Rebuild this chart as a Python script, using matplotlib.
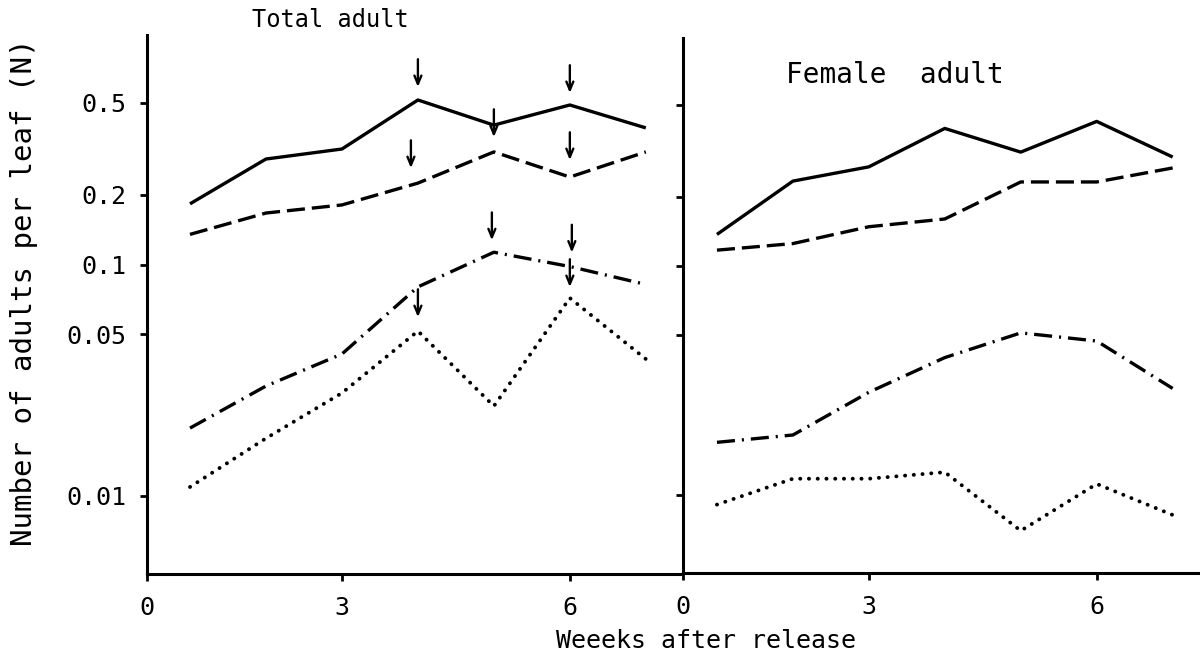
"""Adult counts per leaf after release, total vs female, log scale."""

import matplotlib

matplotlib.use("Agg")
import matplotlib.pyplot as plt
from matplotlib.transforms import offset_copy

plt.rcParams["font.family"] = ["DejaVu Sans Mono", "DejaVu Sans"]
plt.rcParams["lines.scale_dashes"] = False

weeks = [1, 2, 3, 4, 5, 6, 7]

# Total adult (left panel)
total_solid = [0.183, 0.286, 0.316, 0.515, 0.401, 0.49, 0.39]
total_dashed = [0.135, 0.167, 0.181, 0.225, 0.307, 0.239, 0.307]
total_dashdot = [0.0196, 0.0298, 0.041, 0.080, 0.113, 0.098, 0.082]
total_dotted = [0.0109, 0.0177, 0.0278, 0.0515, 0.0244, 0.0716, 0.039]

# Female adult (right panel)
female_solid = [0.137, 0.234, 0.270, 0.397, 0.313, 0.426, 0.298]
female_dashed = [0.117, 0.125, 0.148, 0.160, 0.232, 0.232, 0.267]
female_dashdot = [0.0170, 0.0183, 0.0281, 0.0398, 0.051, 0.047, 0.0292]
female_dotted = [0.0091, 0.0118, 0.0118, 0.0126, 0.0070, 0.0112, 0.0082]

y_ticks = [0.01, 0.05, 0.1, 0.2, 0.5]
y_tick_labels = ["0.01", "0.05", "0.1", "0.2", "0.5"]

# arrows on the left panel: (series, week, gap above point in px, x shift in px)
arrows = [
    ("solid", 4, 13, 0),
    ("solid", 5, -12, 0),
    ("solid", 6, 12, 0),
    ("dashed", 4, 15, -7),
    ("dashed", 6, 17, 0),
    ("dashdot", 5, 12, -2),
    ("dashdot", 6, 14, 2),
    ("dotted", 4, 14, 0),
    ("dotted", 6, 11, 0),
]

styles = {
    "solid": dict(linestyle="-", linewidth=2.4),
    "dashed": dict(linestyle=(0, (13, 5)), linewidth=2.4),
    "dashdot": dict(linestyle=(0, (13, 5, 1.5, 5)), linewidth=2.4),
    "dotted": dict(linestyle=(0, (0.1, 6.2)), linewidth=2.8, dash_capstyle="round"),
}

W, H = 1200, 661
fig = plt.figure(figsize=(W / 100, H / 100), dpi=100)


def px_box(x0, x1, y_top, y_bottom):
    return [x0 / W, 1 - y_bottom / H, (x1 - x0) / W, (y_bottom - y_top) / H]


ax_l = fig.add_axes(px_box(147, 680, 35, 574))
ax_r = fig.add_axes(px_box(683, 1200, 38, 573))

left_series = {
    "solid": total_solid,
    "dashed": total_dashed,
    "dashdot": total_dashdot,
    "dotted": total_dotted,
}
right_series = {
    "solid": female_solid,
    "dashed": female_dashed,
    "dashdot": female_dashdot,
    "dotted": female_dotted,
}

for ax, series, xmin, xmax in (
    (ax_l, left_series, 0.434, 7.45),
    (ax_r, right_series, 0.553, 7.36),
):
    for name, values in series.items():
        ax.plot(weeks, values, color="black", solid_capstyle="butt", **styles[name])
    ax.set_yscale("log")
    ax.set_ylim(0.00458, 0.984)
    ax.set_xlim(xmin, xmax)
    ax.set_yticks(y_ticks)
    ax.yaxis.set_minor_locator(matplotlib.ticker.NullLocator())
    ax.set_xticks([xmin, 3, 6])
    ax.set_xticklabels(["0", "3", "6"])
    ax.spines[["top", "right"]].set_visible(False)
    for side in ("left", "bottom"):
        ax.spines[side].set_linewidth(2.2)
    ax.tick_params(axis="both", direction="out", length=5, width=2.0,
                   labelsize=18, pad=11)

ax_l.set_yticklabels(y_tick_labels)
ax_r.set_yticklabels([])
ax_l.tick_params(axis="y", pad=10)

for name, week, gap_px, dx_px in arrows:
    value = left_series[name][weeks.index(week)]
    tip = offset_copy(ax_l.transData, fig, x=dx_px * 0.72, y=gap_px * 0.72,
                      units="points")
    ax_l.annotate(
        "",
        xy=(week, value),
        xycoords=tip,
        xytext=(0, 20),
        textcoords="offset points",
        arrowprops=dict(arrowstyle="->,head_length=0.6,head_width=0.25",
                        color="black", linewidth=1.7, shrinkA=0, shrinkB=0),
    )

fig.text(330 / W, 1 - 20 / H, "Total adult", ha="center", va="center", fontsize=17)
fig.text(895 / W, 1 - 75 / H, "Female  adult", ha="center", va="center", fontsize=20)
fig.text(706 / W, 1 - 641 / H, "Weeeks after release", ha="center", va="center",
         fontsize=18)
fig.text(24 / W, 1 - 292 / H, "Number of adults per leaf (N)", ha="center",
         va="center", rotation=90, fontsize=21)

fig.savefig("out.png", dpi=100)
